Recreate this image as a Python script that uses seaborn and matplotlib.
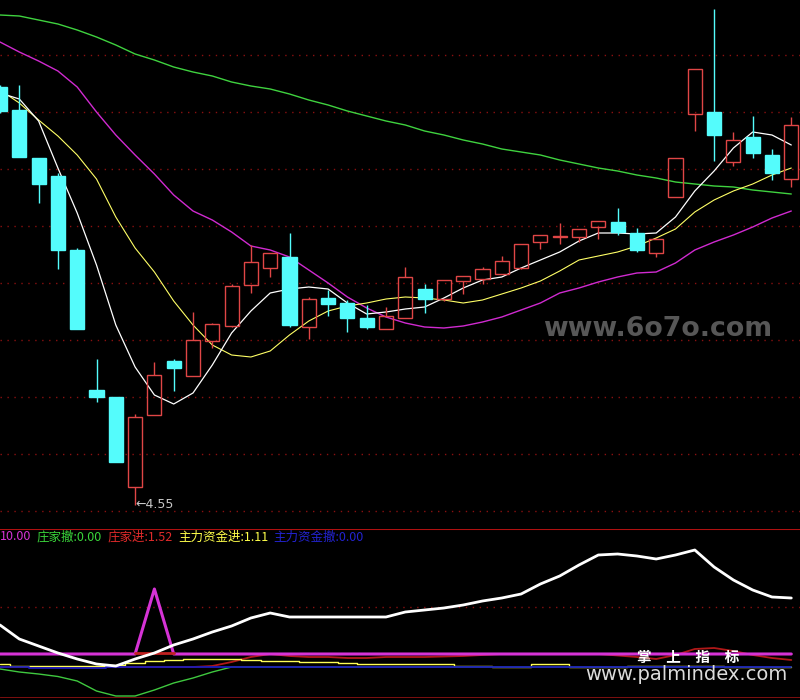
import matplotlib
matplotlib.use("Agg")
import matplotlib.pyplot as plt
import seaborn as sns
import numpy as np

# ---- K线数据 (价格) ----
open_p = [8.73, 8.50, 8.02, 7.84, 7.10, 5.70, 5.63, 4.73, 5.45, 5.99, 5.84, 6.19, 6.34, 6.75,
          6.92, 7.03, 6.33, 6.62, 6.57, 6.42, 6.31, 6.42, 6.71, 6.61, 6.79, 6.81, 6.86, 6.92,
          7.18, 7.23, 7.23, 7.33, 7.38, 7.27, 7.07, 7.63, 8.46, 8.48, 7.98, 8.23, 8.05, 7.81]
high_p = [8.75, 8.75, 8.02, 7.87, 7.12, 6.01, 5.63, 5.46, 5.98, 6.01, 6.48, 6.37, 6.76, 7.15,
          7.07, 7.27, 6.63, 6.70, 6.60, 6.55, 6.53, 6.93, 6.76, 6.80, 6.84, 6.93, 7.04, 7.16,
          7.25, 7.37, 7.31, 7.39, 7.52, 7.32, 7.22, 8.02, 8.91, 9.51, 8.28, 8.44, 8.11, 8.43]
low_p = [8.47, 8.03, 7.57, 6.91, 6.31, 5.58, 4.98, 4.55, 5.45, 5.69, 5.84, 6.12, 6.33, 6.67,
         6.83, 6.33, 6.21, 6.44, 6.28, 6.31, 6.31, 6.42, 6.47, 6.59, 6.66, 6.76, 6.86, 6.91,
         7.11, 7.16, 7.18, 7.21, 7.25, 7.08, 7.03, 7.63, 8.29, 7.99, 7.94, 8.02, 7.80, 7.73]
close_p = [8.49, 8.03, 7.76, 7.10, 6.31, 5.63, 4.98, 5.43, 5.85, 5.92, 6.20, 6.36, 6.74, 6.98,
           7.07, 6.35, 6.61, 6.56, 6.42, 6.33, 6.44, 6.83, 6.61, 6.80, 6.84, 6.91, 6.99, 7.16,
           7.25, 7.24, 7.31, 7.39, 7.28, 7.10, 7.21, 8.02, 8.91, 8.25, 8.20, 8.07, 7.87, 8.35]

ma5 = [8.67, 8.61, 8.39, 7.92, 7.47, 6.95, 6.35, 5.93, 5.65, 5.56, 5.67, 5.95, 6.27, 6.49,
       6.67, 6.71, 6.73, 6.71, 6.57, 6.46, 6.48, 6.51, 6.53, 6.62, 6.72, 6.80, 6.83, 6.92,
       7.00, 7.08, 7.19, 7.27, 7.27, 7.26, 7.27, 7.43, 7.69, 7.89, 8.12, 8.28, 8.25, 8.15]
ma10 = [8.70, 8.57, 8.40, 8.24, 8.05, 7.81, 7.43, 7.12, 6.88, 6.59, 6.35, 6.15, 6.05, 6.03,
        6.09, 6.25, 6.39, 6.49, 6.54, 6.57, 6.61, 6.63, 6.62, 6.60, 6.57, 6.60, 6.66, 6.72,
        6.79, 6.89, 7.00, 7.04, 7.08, 7.14, 7.22, 7.31, 7.48, 7.60, 7.69, 7.76, 7.85, 7.92]
ma30 = [9.18, 9.08, 8.99, 8.89, 8.73, 8.48, 8.25, 8.05, 7.86, 7.65, 7.49, 7.40, 7.28, 7.14,
        7.10, 7.03, 6.90, 6.77, 6.63, 6.52, 6.43, 6.37, 6.33, 6.32, 6.34, 6.38, 6.43, 6.50,
        6.57, 6.67, 6.72, 6.78, 6.83, 6.87, 6.88, 6.97, 7.10, 7.18, 7.25, 7.33, 7.42, 7.49]
ma60 = [9.45, 9.44, 9.40, 9.36, 9.30, 9.23, 9.15, 9.06, 9.00, 8.93, 8.88, 8.84, 8.78, 8.74,
        8.71, 8.66, 8.60, 8.55, 8.49, 8.44, 8.39, 8.35, 8.29, 8.25, 8.20, 8.16, 8.11, 8.08,
        8.05, 8.00, 7.96, 7.92, 7.89, 7.85, 7.82, 7.78, 7.76, 7.74, 7.73, 7.70, 7.68, 7.66]

# ---- 副图指标 ----
main_line = [8.4, 5.6, 4.2, 2.8, 1.6, 0.6, 0.2, 1.6, 2.8, 4.4, 5.6, 7.0, 8.2, 9.8,
             10.8, 10.0, 10.0, 10.0, 10.0, 10.0, 10.0, 11.0, 11.4, 11.8, 12.4, 13.2, 13.8, 14.6,
             16.6, 18.2, 20.4, 22.4, 22.6, 22.2, 21.6, 22.4, 23.4, 20.0, 17.4, 15.4, 14.0, 13.8]
signal = [2.6, 2.6, 2.6, 2.6, 2.6, 2.6, 2.6, 2.6, 15.6, 2.6, 2.6, 2.6, 2.6, 2.6,
          2.6, 2.6, 2.6, 2.6, 2.6, 2.6, 2.6, 2.6, 2.6, 2.6, 2.6, 2.6, 2.6, 2.6,
          2.6, 2.6, 2.6, 2.6, 2.6, 2.6, 2.6, 2.6, 2.6, 2.6, 2.6, 2.6, 2.6, 2.6]
zj_out = [-0.4, -1.0, -1.4, -1.9, -2.8, -4.8, -5.8, -5.8, -4.6, -3.2, -2.2, -1.0, 0.0, 0.0,
          0.0, 0.0, 0.0, 0.0, 0.0, 0.0, 0.0, 0.0, 0.0, 0.0, 0.0, 0.0, 0.0, 0.0,
          0.0, 0.0, 0.0, 0.0, 0.0, 0.0, 0.0, 0.0, 0.0, 0.0, 0.0, 0.0, 0.0, 0.0]
zj_in = [0.0, 0.0, 0.0, 0.0, 0.0, 0.0, 0.0, 0.0, 0.0, 0.0, 0.0, 0.2, 1.0, 2.0,
         2.6, 2.2, 2.0, 2.0, 1.8, 1.8, 2.0, 2.0, 2.0, 2.1, 2.2, 2.4, 2.6, 2.6,
         2.6, 2.6, 2.6, 2.6, 2.3, 2.0, 1.6, 2.4, 3.6, 3.8, 3.2, 2.4, 1.8, 1.4]
zj_in_mark_idx = [7, 8, 9]
zj_in_mark = [2.8, 2.8, 2.8]
zl_in = [0.6, 0.2, 0.2, 0.2, 0.2, 0.2, 0.4, 0.8, 1.2, 1.4, 1.6, 1.6, 1.6, 1.4,
         1.2, 1.2, 1.0, 1.0, 0.8, 0.6, 0.6, 0.6, 0.6, 0.6, 0.2, 0.2, 0.0, 0.0,
         0.6, 0.6, 0.0, 0.0, 0.0, 0.2, 0.2, 0.2, 0.2, 0.2, 0.0, 0.0, 0.0, 0.0]
zl_out = [0.0, 0.0, -0.2, -0.2, -0.2, -0.2, 0.0, 0.0, 0.0, 0.0, 0.0, 0.0, 0.0, 0.0,
          0.0, 0.0, 0.0, 0.0, 0.0, 0.0, 0.0, 0.0, 0.0, 0.0, 0.0, 0.0, 0.0, 0.0,
          0.0, 0.0, 0.0, 0.0, 0.0, 0.0, 0.0, 0.0, 0.0, 0.0, 0.0, 0.0, 0.0, 0.0]

legend_items = [("10.00", "#d633d6"), ("庄家撤:0.00", "#3ad43a"), ("庄家进:1.52", "#e02a2a"),
                ("主力资金进:1.11", "#ffff4a"), ("主力资金撤:0.00", "#2323d0")]
legend_x = [0, 36, 107, 178, 273]

low_label = "←4.55"

CYAN = "#54fcfc"
RED = "#e04646"

sns.set_theme(style="dark", rc={"axes.facecolor": "black", "figure.facecolor": "black"})
plt.rcParams["font.family"] = ["Noto Sans CJK SC", "DejaVu Sans"]

fig = plt.figure(figsize=(8, 7), dpi=100)
ax = fig.add_axes([0, 171 / 700, 1, 529 / 700])
ax2 = fig.add_axes([0, 2 / 700, 1, 169 / 700])

xmax = 800 / 19.3
for a in (ax, ax2):
    a.set_facecolor("black")
    a.set_xticks([])
    a.set_yticks([])
    a.grid(False)
    a.set_xlim(0, xmax)
    for s in a.spines.values():
        s.set_visible(False)

days = np.arange(len(open_p))
o = np.array(open_p)
c = np.array(close_p)
h = np.array(high_p)
l = np.array(low_p)

# ---- 主图 ----
ax.set_ylim(4.31, 9.60)
for g in np.arange(4.49, 9.1, 0.57):
    ax.axhline(g, color="#8a1010", lw=1, ls=(0, (1, 4)), zorder=0)

sns.lineplot(x=days, y=ma60, ax=ax, color="#3fd23f", lw=1, zorder=1)
sns.lineplot(x=days, y=ma30, ax=ax, color="#d02ad0", lw=1, zorder=1)
sns.lineplot(x=days, y=ma10, ax=ax, color="#ffff66", lw=0.8, zorder=1)
sns.lineplot(x=days, y=ma5, ax=ax, color="white", lw=0.9, zorder=1)

up = c >= o
top = np.maximum(o, c)
bot = np.minimum(o, c)
cols = np.where(up, RED, CYAN)
ax.vlines(days, top, h, colors=cols, lw=1, zorder=2)
ax.vlines(days, l, bot, colors=cols, lw=1, zorder=2)
ax.bar(days[up], (top - bot)[up], bottom=bot[up], width=0.73, facecolor="none",
       edgecolor=RED, linewidth=1, zorder=3)
ax.bar(days[~up], (top - bot)[~up], bottom=bot[~up], width=0.73, facecolor=CYAN,
       edgecolor=CYAN, linewidth=1, zorder=3)

imin = int(np.argmin(l))
ax.text(days[imin], l[imin], low_label, color="#c8c8c8", fontsize=9,
        family="DejaVu Sans", va="center", ha="left")

ax.text(543 / 800, 1 - 329 / 529, "www.6o7o.com", transform=ax.transAxes, color="#575757",
        fontsize=19.3, fontweight="bold", family="DejaVu Sans", va="center", ha="left", zorder=0)

# ---- 副图 ----
ax2.set_ylim(-6.2, 27.6)
ax2.axhline(12, color="#8a1010", lw=1, ls=(0, (1, 4)), zorder=0)
ax2.axhline(27.6, color="#b01010", lw=1.5)
ax2.axhline(-6.2, color="#8a1010", lw=2)

sns.lineplot(x=days, y=zj_in, ax=ax2, color="#b01818", lw=1.3, zorder=2)
sns.lineplot(x=days, y=zl_in, ax=ax2, color="#ffff55", lw=1, drawstyle="steps-mid", zorder=2)
sns.lineplot(x=days, y=zj_out, ax=ax2, color="#3fc83f", lw=1, zorder=2)
sns.lineplot(x=days, y=zl_out, ax=ax2, color="#1c1cb8", lw=1.3, drawstyle="steps-mid", zorder=3)
sns.lineplot(x=days, y=signal, ax=ax2, color="#d633d6", lw=2.2, zorder=4)
sns.lineplot(x=zj_in_mark_idx, y=zj_in_mark, ax=ax2, color="#c02020", lw=2, zorder=5)
sns.lineplot(x=days, y=main_line, ax=ax2, color="white", lw=2, zorder=6)

for (txt, col), xp in zip(legend_items, legend_x):
    fig.text(xp / 800, 1 - 537 / 700, txt, color=col, fontsize=9, va="center", ha="left")

fig.text(637 / 800, 1 - 657 / 700, "掌\u3000上\u3000指\u3000标", color="white", fontsize=10.5,
         fontweight="bold", va="center", ha="left")
fig.text(585 / 800, 1 - 674 / 700, "www.palmindex.com", color="#dcdcdc", fontsize=14,
         family="DejaVu Sans", va="center", ha="left")

fig.savefig("out.png", dpi=100, facecolor="black")
